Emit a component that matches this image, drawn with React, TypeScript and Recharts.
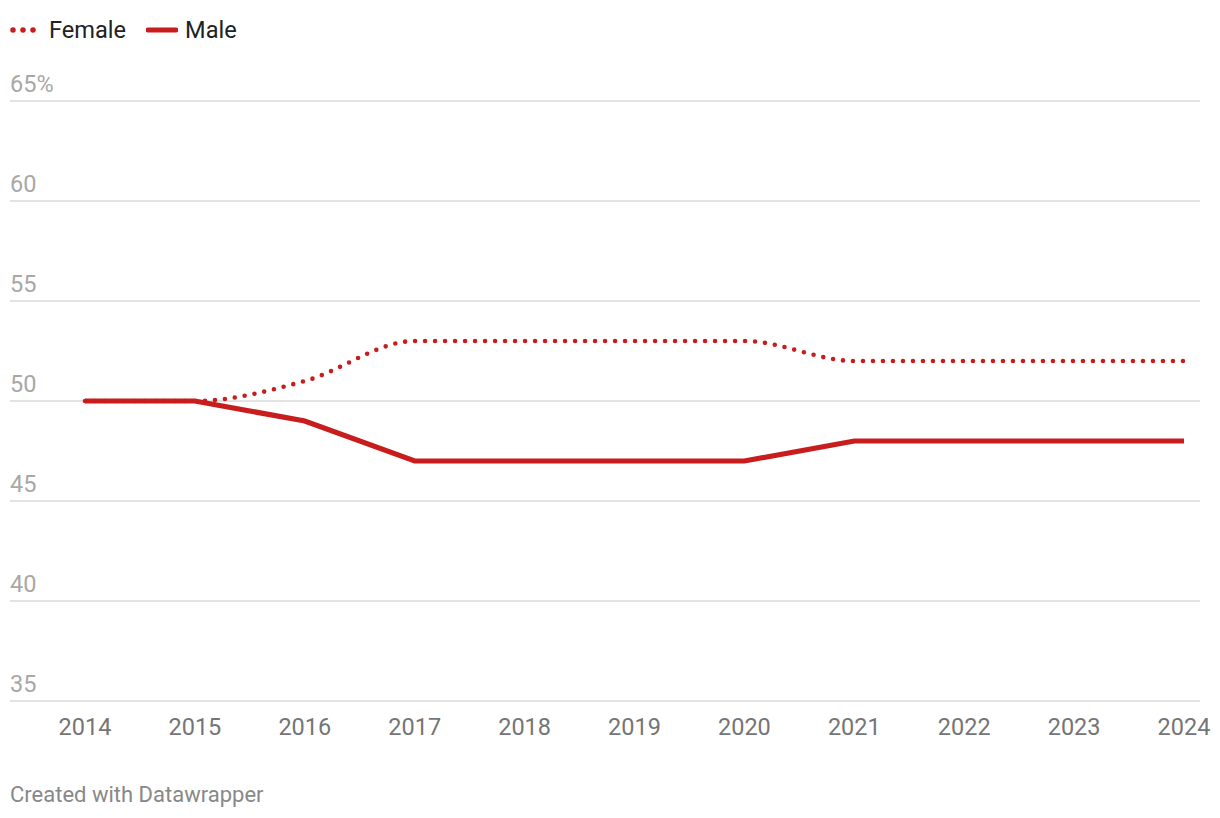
import { CartesianGrid, Line, LineChart, XAxis, YAxis } from "recharts";

const years = [2014, 2015, 2016, 2017, 2018, 2019, 2020, 2021, 2022, 2023, 2024];
const female = [50, 50, 51, 53, 53, 53, 53, 52, 52, 52, 52];
const male = [50, 50, 49, 47, 47, 47, 47, 48, 48, 48, 48];
const yTicks = [35, 40, 45, 50, 55, 60, 65];

const RED = "#c71e1d";
const FONT = "Roboto, 'Noto Sans', sans-serif";

const data = years.map((y, i) => ({ year: y, female: female[i], male: male[i] }));

function YTick(props: any) {
  const { y, payload } = props;
  const label = payload.value === 65 ? "65%" : String(payload.value);
  return (
    <text x={10} y={y - 9} fill="#a8a8a8" fontSize={23.5} fontFamily={FONT} textAnchor="start">
      {label}
    </text>
  );
}

function XTick(props: any) {
  const { x, y, payload } = props;
  return (
    <text x={x} y={y + 26} fill="#757575" fontSize={23.5} fontFamily={FONT} textAnchor="middle">
      {payload.value}
    </text>
  );
}

export default function App() {
  return (
    <div style={{ position: "absolute", left: 0, top: 0, width: 1220, height: 818, background: "#fff", fontFamily: FONT }}>
      <div style={{ position: "absolute", left: 10, top: 16, display: "flex", alignItems: "center", fontSize: 23.6, color: "#222" }}>
        <svg width={30} height={10} style={{ marginRight: 9 }}>
          <line x1={3} y1={5} x2={28} y2={5} stroke={RED} strokeWidth={5.5} strokeDasharray="0 10" strokeLinecap="round" />
        </svg>
        <span style={{ marginRight: 20 }}>Female</span>
        <svg width={32} height={10} style={{ marginRight: 7 }}>
          <line x1={2} y1={5} x2={30} y2={5} stroke={RED} strokeWidth={5} strokeLinecap="round" />
        </svg>
        <span>Male</span>
      </div>
      <div style={{ position: "absolute", left: 0, top: 0 }}>
        <LineChart width={1220} height={760} data={data} margin={{ top: 101, right: 20, bottom: 0, left: 9 }}>
          <CartesianGrid vertical={false} stroke="#e3e3e3" strokeWidth={2} />
          <XAxis
            dataKey="year"
            type="number"
            domain={[2014, 2024]}
            ticks={years}
            padding={{ left: 75, right: 16 }}
            axisLine={false}
            tickLine={false}
            height={59}
            tick={(p: any) => <XTick {...p} />}
            interval={0}
          />
          <YAxis
            domain={[35, 65]}
            ticks={yTicks}
            axisLine={false}
            tickLine={false}
            width={1}
            interval={0}
            tick={(p: any) => <YTick {...p} />}
          />
          <Line
            dataKey="female"
            type="monotone"
            stroke={RED}
            strokeWidth={4.6}
            strokeDasharray="0 10"
            strokeLinecap="round"
            dot={false}
            isAnimationActive={false}
          />
          <Line
            dataKey="male"
            type="linear"
            stroke={RED}
            strokeWidth={5.2}
            dot={false}
            isAnimationActive={false}
          />
        </LineChart>
      </div>
      <div style={{ position: "absolute", left: 10, top: 782, fontSize: 22, color: "#888" }}>
        Created with Datawrapper
      </div>
    </div>
  );
}
